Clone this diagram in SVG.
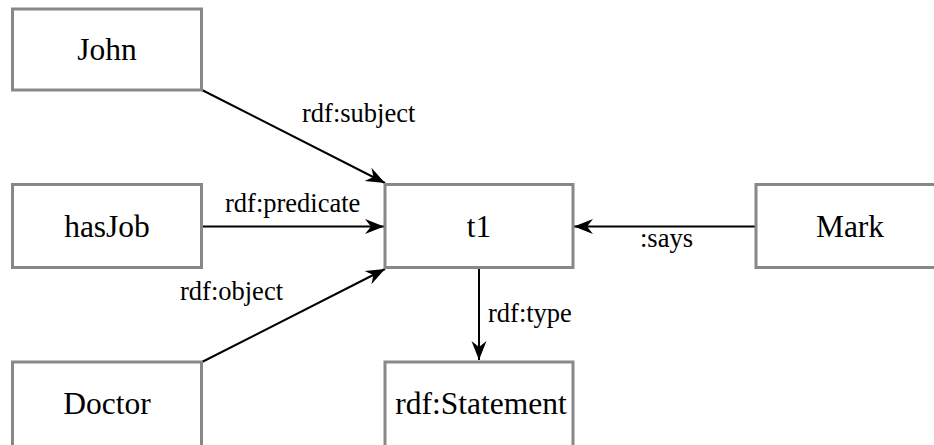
<svg xmlns="http://www.w3.org/2000/svg" width="934" height="445" viewBox="0 0 934 445">
<style>
.box{fill:#fff;stroke:#888;stroke-width:3}
.nt{font-family:"Liberation Serif",serif;font-size:31.5px;fill:#000;text-anchor:middle}
.et{font-family:"Liberation Serif",serif;font-size:26.5px;fill:#000}
.edge{stroke:#000;stroke-width:2;fill:none;marker-end:url(#arr)}
</style>
<defs>
<marker id="arr" markerUnits="userSpaceOnUse" viewBox="-20 -10 22 20" refX="0" refY="0" markerWidth="22" markerHeight="20" orient="auto">
<path d="M0,0 L-19,-7.5 L-13,0 L-19,7.5 Z" fill="#000"/>
</marker>
</defs>
<rect width="934" height="445" fill="#fff"/>
<g id="connectors">
<line class="edge" x1="202" y1="90" x2="385" y2="183"/>
<line class="edge" x1="202" y1="226.5" x2="384" y2="226.5"/>
<line class="edge" x1="202" y1="362" x2="385" y2="269"/>
<line class="edge" x1="479" y1="268" x2="479" y2="360"/>
<line class="edge" x1="756" y1="226.5" x2="574" y2="226.5"/>
<text class="et" x="302" y="122">rdf:subject</text>
<text class="et" x="225" y="212">rdf:predicate</text>
<text class="et" x="180" y="300">rdf:object</text>
<text class="et" x="488" y="322">rdf:type</text>
<text class="et" x="640" y="247">:says</text>
</g>
<g id="john"><rect class="box" x="12.5" y="9" width="189" height="81"/><text class="nt" x="107" y="60">John</text></g>
<g id="hasJob"><rect class="box" x="12.5" y="184.5" width="189" height="83"/><text class="nt" x="107" y="237">hasJob</text></g>
<g id="doctor"><rect class="box" x="12.5" y="362" width="189" height="90"/><text class="nt" x="107" y="414">Doctor</text></g>
<g id="t1"><rect class="box" x="385" y="184.5" width="188" height="83"/><text class="nt" x="479" y="237">t1</text></g>
<g id="statement"><rect class="box" x="385" y="362" width="188" height="90"/><text class="nt" x="481" y="414">rdf:Statement</text></g>
<g id="mark"><rect class="box" x="756" y="184.5" width="190" height="83"/><text class="nt" x="850" y="237">Mark</text></g>
</svg>
